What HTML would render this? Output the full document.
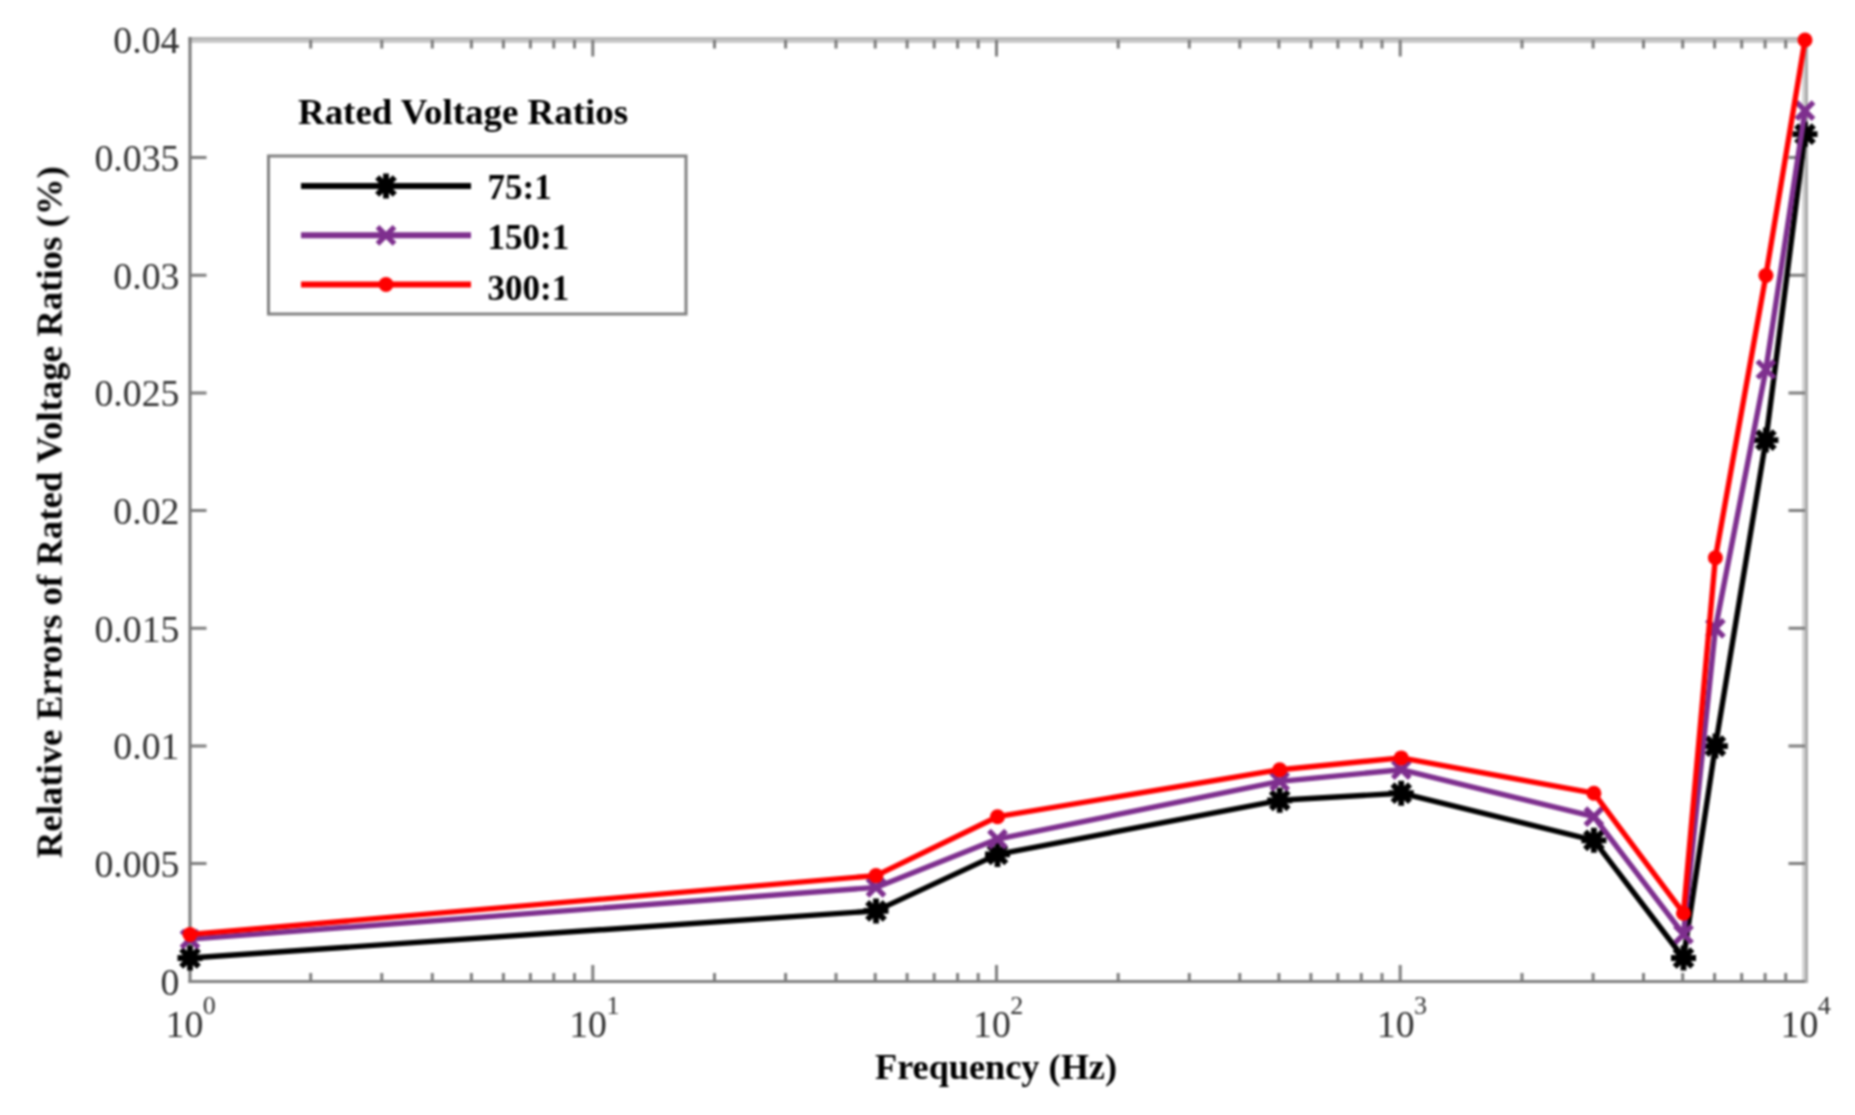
<!DOCTYPE html>
<html><head><meta charset="utf-8"><title>Relative Errors of Rated Voltage Ratios</title>
<style>html,body{margin:0;padding:0;background:#fff}body{width:1855px;height:1115px;overflow:hidden}svg{display:block}</style></head>
<body>
<svg width="1855" height="1115" viewBox="0 0 1855 1115">
<rect width="1855" height="1115" fill="#fff"/>
<defs><filter id="soft" x="0" y="0" width="100%" height="100%" filterUnits="userSpaceOnUse" color-interpolation-filters="sRGB"><feGaussianBlur stdDeviation="1"/></filter></defs>
<g filter="url(#soft)">
<rect x="188.5" y="37.0" width="1619.5" height="3" fill="#b7b7b7"/>
<rect x="188.5" y="40.0" width="1619.5" height="3" fill="#cbcbcb"/>
<rect x="1802.0" y="37.0" width="3" height="946.0" fill="#d4d4d4"/>
<rect x="1805.0" y="37.0" width="3" height="946.0" fill="#ababab"/>
<rect x="188.5" y="37.0" width="3" height="946.0" fill="#787878"/>
<rect x="188.5" y="980.0" width="1616.5" height="3" fill="#808080"/>
<path d="M310.7 40.0V48.5M310.7 981.5V973.0M381.8 40.0V48.5M381.8 981.5V973.0M432.3 40.0V48.5M432.3 981.5V973.0M471.4 40.0V48.5M471.4 981.5V973.0M503.4 40.0V48.5M503.4 981.5V973.0M530.4 40.0V48.5M530.4 981.5V973.0M553.8 40.0V48.5M553.8 981.5V973.0M574.5 40.0V48.5M574.5 981.5V973.0M592.8 40.0V56.5M592.8 981.5V965.0M714.5 40.0V48.5M714.5 981.5V973.0M785.6 40.0V48.5M785.6 981.5V973.0M836.0 40.0V48.5M836.0 981.5V973.0M875.2 40.0V48.5M875.2 981.5V973.0M907.1 40.0V48.5M907.1 981.5V973.0M934.2 40.0V48.5M934.2 981.5V973.0M957.6 40.0V48.5M957.6 981.5V973.0M978.2 40.0V48.5M978.2 981.5V973.0M996.5 40.0V56.5M996.5 981.5V965.0M1118.2 40.0V48.5M1118.2 981.5V973.0M1189.3 40.0V48.5M1189.3 981.5V973.0M1239.8 40.0V48.5M1239.8 981.5V973.0M1278.9 40.0V48.5M1278.9 981.5V973.0M1310.9 40.0V48.5M1310.9 981.5V973.0M1337.9 40.0V48.5M1337.9 981.5V973.0M1361.3 40.0V48.5M1361.3 981.5V973.0M1382.0 40.0V48.5M1382.0 981.5V973.0M1400.2 40.0V56.5M1400.2 981.5V965.0M1522.0 40.0V48.5M1522.0 981.5V973.0M1593.1 40.0V48.5M1593.1 981.5V973.0M1643.5 40.0V48.5M1643.5 981.5V973.0M1682.7 40.0V48.5M1682.7 981.5V973.0M1714.6 40.0V48.5M1714.6 981.5V973.0M1741.7 40.0V48.5M1741.7 981.5V973.0M1765.1 40.0V48.5M1765.1 981.5V973.0M1785.7 40.0V48.5M1785.7 981.5V973.0M190.0 863.6H206.5M1805.0 863.6H1788.5M190.0 745.9H206.5M1805.0 745.9H1788.5M190.0 628.2H206.5M1805.0 628.2H1788.5M190.0 510.5H206.5M1805.0 510.5H1788.5M190.0 392.9H206.5M1805.0 392.9H1788.5M190.0 275.2H206.5M1805.0 275.2H1788.5M190.0 157.5H206.5M1805.0 157.5H1788.5" stroke="#7d7d7d" stroke-width="3" fill="none"/>
<polyline points="190.0,958.0 876.0,910.9 997.5,854.4 1279.7,800.3 1401.2,793.2 1593.9,840.3 1683.5,958.0 1715.4,746.1 1765.9,440.1 1805.0,134.2" fill="none" stroke="#000" stroke-width="5.4" stroke-linejoin="round"/>
<path d="M177.5 958.0H202.5M190.0 945.5V970.5M181.2 949.2L198.8 966.8M181.2 966.8L198.8 949.2M863.5 910.9H888.5M876.0 898.4V923.4M867.2 902.1L884.8 919.7M867.2 919.7L884.8 902.1M985.0 854.4H1010.0M997.5 841.9V866.9M988.7 845.6L1006.3 863.2M988.7 863.2L1006.3 845.6M1267.2 800.3H1292.2M1279.7 787.8V812.8M1270.9 791.5L1288.5 809.1M1270.9 809.1L1288.5 791.5M1388.8 793.2H1413.8M1401.2 780.7V805.7M1392.5 784.4L1410.0 802.0M1392.5 802.0L1410.0 784.4M1581.4 840.3H1606.4M1593.9 827.8V852.8M1585.1 831.5L1602.7 849.1M1585.1 849.1L1602.7 831.5M1671.0 958.0H1696.0M1683.5 945.5V970.5M1674.7 949.2L1692.3 966.8M1674.7 966.8L1692.3 949.2M1702.9 746.1H1727.9M1715.4 733.6V758.6M1706.6 737.3L1724.2 754.9M1706.6 754.9L1724.2 737.3M1753.4 440.1H1778.4M1765.9 427.6V452.6M1757.1 431.3L1774.7 448.9M1757.1 448.9L1774.7 431.3M1792.5 134.2H1817.5M1805.0 121.7V146.7M1796.2 125.4L1813.8 143.0M1796.2 143.0L1813.8 125.4" stroke="#000" stroke-width="5.8" fill="none"/>
<polyline points="190.0,939.1 876.0,887.4 997.5,839.1 1279.7,781.4 1401.2,769.7 1593.9,816.7 1683.5,934.4 1715.4,628.4 1765.9,369.5 1805.0,110.6" fill="none" stroke="#7e2f8e" stroke-width="5.4" stroke-linejoin="round"/>
<path d="M181.5 930.6L198.5 947.6M181.5 947.6L198.5 930.6M867.5 878.9L884.5 895.9M867.5 895.9L884.5 878.9M989.0 830.6L1006.0 847.6M989.0 847.6L1006.0 830.6M1271.2 772.9L1288.2 789.9M1271.2 789.9L1288.2 772.9M1392.8 761.2L1409.8 778.2M1392.8 778.2L1409.8 761.2M1585.4 808.2L1602.4 825.2M1585.4 825.2L1602.4 808.2M1675.0 925.9L1692.0 942.9M1675.0 942.9L1692.0 925.9M1706.9 619.9L1723.9 636.9M1706.9 636.9L1723.9 619.9M1757.4 361.0L1774.4 378.0M1757.4 378.0L1774.4 361.0M1796.5 102.1L1813.5 119.1M1796.5 119.1L1813.5 102.1" stroke="#7e2f8e" stroke-width="5.2" fill="none"/>
<polyline points="190.0,934.4 876.0,875.6 997.5,816.7 1279.7,769.7 1401.2,757.9 1593.9,793.2 1683.5,913.2 1715.4,557.8 1765.9,275.4 1805.0,40.0" fill="none" stroke="#ff0000" stroke-width="5.4" stroke-linejoin="round"/>
<circle cx="190.0" cy="934.4" r="7.5" fill="#ff0000"/>
<circle cx="876.0" cy="875.6" r="7.5" fill="#ff0000"/>
<circle cx="997.5" cy="816.7" r="7.5" fill="#ff0000"/>
<circle cx="1279.7" cy="769.7" r="7.5" fill="#ff0000"/>
<circle cx="1401.2" cy="757.9" r="7.5" fill="#ff0000"/>
<circle cx="1593.9" cy="793.2" r="7.5" fill="#ff0000"/>
<circle cx="1683.5" cy="913.2" r="7.5" fill="#ff0000"/>
<circle cx="1715.4" cy="557.8" r="7.5" fill="#ff0000"/>
<circle cx="1765.9" cy="275.4" r="7.5" fill="#ff0000"/>
<circle cx="1805.0" cy="40.0" r="7.5" fill="#ff0000"/>
<rect x="268.5" y="156" width="417.5" height="158" fill="#fff" stroke="#808080" stroke-width="3"/>
<path d="M301 186H471" stroke="#000" stroke-width="6"/>
<path d="M373.5 186.0H398.5M386.0 173.5V198.5M377.2 177.2L394.8 194.8M377.2 194.8L394.8 177.2" stroke="#000" stroke-width="5.8"/>
<path d="M301 235.3H471" stroke="#7e2f8e" stroke-width="6"/>
<path d="M377.5 226.8L394.5 243.8M377.5 243.8L394.5 226.8" stroke="#7e2f8e" stroke-width="5.2"/>
<path d="M301 284.5H471" stroke="#ff0000" stroke-width="6"/>
<circle cx="386" cy="284.5" r="7.5" fill="#ff0000"/>
<g font-family="'Liberation Serif', 'Times New Roman', serif" font-weight="bold" fill="#000">
<text x="298" y="123.7" font-size="36" textLength="330" lengthAdjust="spacingAndGlyphs">Rated Voltage Ratios</text>
<text x="487.5" y="199.4" font-size="35">75:1</text>
<text x="487.5" y="249.1" font-size="35">150:1</text>
<text x="487.5" y="299.6" font-size="35">300:1</text>
<text x="875" y="1079" font-size="36.2" textLength="242" lengthAdjust="spacingAndGlyphs">Frequency (Hz)</text>
<text transform="translate(61.6 858.2) rotate(-90)" font-size="36.5" textLength="692" lengthAdjust="spacingAndGlyphs">Relative Errors of Rated Voltage Ratios (%)</text>
</g>
<g font-family="'Liberation Serif', 'Times New Roman', serif" fill="#303030" font-size="37.8">
<text x="179.5" y="994.7" text-anchor="end">0</text>
<text x="179.5" y="877.0" text-anchor="end">0.005</text>
<text x="179.5" y="759.3" text-anchor="end">0.01</text>
<text x="179.5" y="641.6" text-anchor="end">0.015</text>
<text x="179.5" y="523.9" text-anchor="end">0.02</text>
<text x="179.5" y="406.3" text-anchor="end">0.025</text>
<text x="179.5" y="288.6" text-anchor="end">0.03</text>
<text x="179.5" y="170.9" text-anchor="end">0.035</text>
<text x="179.5" y="53.2" text-anchor="end">0.04</text>
<text x="165.5" y="1037">10<tspan font-size="26" dy="-23.5" dx="-0.5">0</tspan></text>
<text x="569.2" y="1037">10<tspan font-size="26" dy="-23.5" dx="-0.5">1</tspan></text>
<text x="973.0" y="1037">10<tspan font-size="26" dy="-23.5" dx="-0.5">2</tspan></text>
<text x="1376.8" y="1037">10<tspan font-size="26" dy="-23.5" dx="-0.5">3</tspan></text>
<text x="1780.5" y="1037">10<tspan font-size="26" dy="-23.5" dx="-0.5">4</tspan></text>
</g>
</g>
</svg>
</body></html>
